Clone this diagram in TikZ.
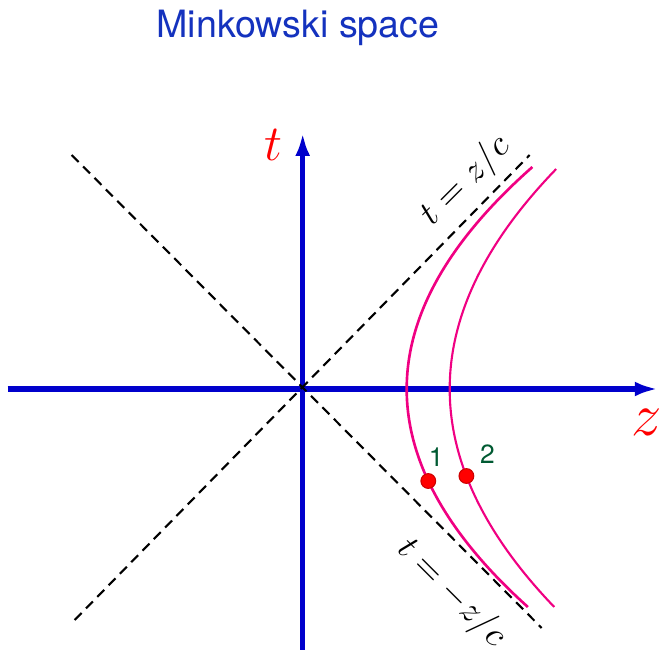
\documentclass[tikz,border=0pt]{standalone}
\usepackage{fontspec}
\setsansfont{TeX Gyre Heros}
\usetikzlibrary{arrows.meta,positioning}
\definecolor{EjeAzul}{RGB}{0,0,204}
\definecolor{TituloAzul}{RGB}{20,50,190}
\definecolor{CurvaRosa}{RGB}{240,0,130}
\definecolor{NumVerde}{RGB}{0,90,50}

\begin{document}
\begin{tikzpicture}[
  eje/.style={-{Latex[length=6.5pt,width=4.2pt]},line width=1.5pt,draw=EjeAzul},
  asintota/.style={draw=black,dash pattern=on 2.8pt off 1.8pt,line width=0.6pt},
  hiper/.style={draw=CurvaRosa,samples=80,smooth},
  evento/.style={circle,fill=red,draw=red!80!black,line width=0.3pt,minimum size=4.2pt,inner sep=0pt},
  numero/.style={font=\sffamily\fontsize{7.5}{9}\selectfont,text=NumVerde,inner sep=0pt},
  rotulo/.style={font=\fontsize{10}{12}\selectfont,inner sep=0pt},
  letra/.style={text=red,inner sep=0pt}
]
\useasboundingbox (-3.027,-2.60) rectangle (3.583,3.89);
\node[font=\sffamily\fontsize{10.7}{13}\selectfont,text=TituloAzul,inner sep=0pt] (titulo) at (-0.047,3.61) {Minkowski space};
% ejes
\coordinate (zini) at (-2.95,0);
\coordinate (zfin) at (3.55,0);
\coordinate (tini) at (0,-2.62);
\coordinate (tfin) at (0,2.56);
\draw[eje] (zini) -- (zfin);
\draw[eje] (tini) -- (tfin);
\node[letra,font=\fontsize{14.4}{16}\selectfont] (tlab) at (-0.297,2.44) {$t$};
\node[letra,font=\fontsize{16}{18}\selectfont] (zlab) at (3.443,-0.33) {$z$};
% conos de luz
\coordinate (a1) at (-2.28,-2.31);
\coordinate (b1) at (2.27,2.34);
\coordinate (a2) at (-2.31,2.34);
\coordinate (b2) at (2.39,-2.39);
\foreach \a/\b in {a1/b1,a2/b2}
  \draw[asintota] (\a) -- (\b);
\node[rotulo,rotate=45] (cono1) at (1.63,2.08) {$t=z/c$};
\node[rotulo,rotate=-45] (cono2) at (1.49,-2.04) {$t=-z/c$};
% hiperbolas
\draw[hiper,line width=0.75pt] plot[domain=-2.18:2.22] ({1.04+0.255*\x*\x},\x);
\draw[hiper,line width=0.6pt] plot[domain=-2.18:2.20] ({1.47+0.22*\x*\x},\x);
% eventos
\node[evento] (p1) at (1.256,-0.92) {};
\node[evento] (p2) at (1.637,-0.87) {};
\node[numero,above=0.6mm of p1,xshift=0.8mm] (n1) {1};
\node[numero,above=0.4mm of p2,xshift=2.1mm] (n2) {2};
\end{tikzpicture}
\end{document}
